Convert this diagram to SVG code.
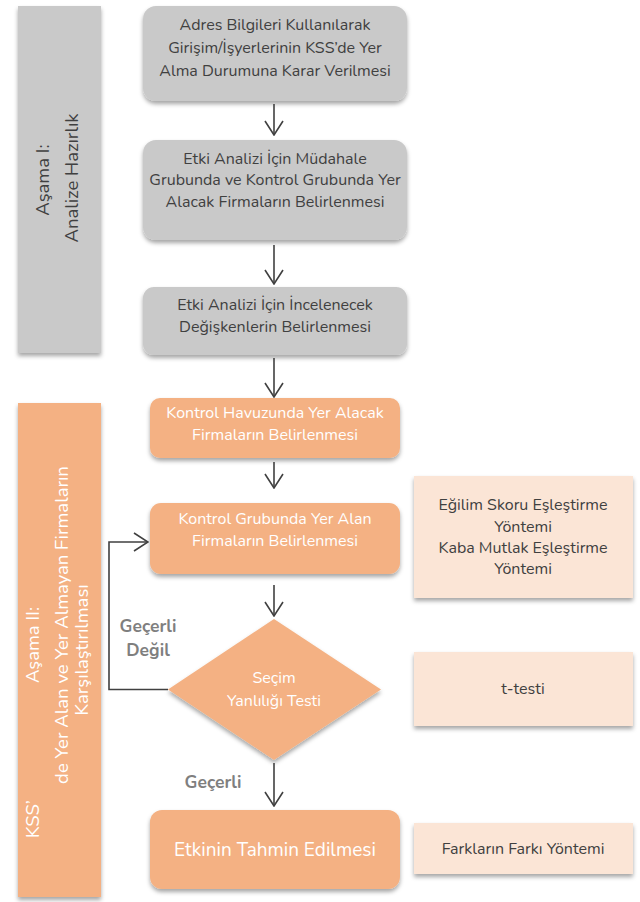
<svg xmlns="http://www.w3.org/2000/svg" width="640" height="902" viewBox="0 0 640 902">
<defs>
<filter id="sh" x="-10%" y="-10%" width="120%" height="130%">
<feDropShadow dx="0" dy="3" stdDeviation="2" flood-color="#000" flood-opacity="0.35"/>
</filter>
<marker id="ah" viewBox="0 0 16 20" refX="15" refY="10" markerWidth="16" markerHeight="20" markerUnits="userSpaceOnUse" orient="auto">
<path d="M1,1 L15,10 L1,19" fill="none" stroke="#404040" stroke-width="1.6"/>
</marker>
<style>
.gray{fill:#c9c9c9;filter:url(#sh)}
.org{fill:#f4b183;filter:url(#sh)}
.lt{fill:#fbe5d6;filter:url(#sh)}
text{font-family:"Nunito","Lato","Open Sans",sans-serif;text-anchor:middle;dominant-baseline:central}
.dk{fill:#404040;font-size:16px}
.wt{fill:#ffffff;font-size:16px}
.lbl{fill:#7f7f7f;font-size:17.5px;font-weight:bold}
.side{font-size:18.5px}
.conn{fill:none;stroke:#404040;stroke-width:1.6}
</style>
</defs>

<g id="phase1">
<rect class="gray" x="18" y="6" width="83" height="347"/>
<text class="dk side" transform="translate(43,180) rotate(-90)">Aşama I:</text>
<text class="dk side" transform="translate(72,178) rotate(-90)">Analize Hazırlık</text>
</g>

<g id="phase2">
<rect class="org" x="18" y="403" width="83" height="494"/>
<text class="wt side" transform="translate(33,645) rotate(-90)">Aşama II:</text>
<text class="wt side" transform="translate(33,819) rotate(-90)">KSS’</text>
<text class="wt side" transform="translate(62,625) rotate(-90)">de Yer Alan ve Yer Almayan Firmaların</text>
<text class="wt side" transform="translate(82,650) rotate(-90)">Karşılaştırılması</text>
</g>

<g id="n1">
<rect class="gray" x="143" y="6" width="264" height="95" rx="13"/>
<text class="dk" x="275" y="25">Adres Bilgileri Kullanılarak</text>
<text class="dk" x="275" y="48">Girişim/İşyerlerinin KSS’de Yer</text>
<text class="dk" x="275" y="71">Alma Durumuna Karar Verilmesi</text>
</g>

<g id="n2">
<rect class="gray" x="143" y="140" width="264" height="100" rx="13"/>
<text class="dk" x="275" y="159">Etki Analizi İçin Müdahale</text>
<text class="dk" x="275" y="180">Grubunda ve Kontrol Grubunda Yer</text>
<text class="dk" x="275" y="202">Alacak Firmaların Belirlenmesi</text>
</g>

<g id="n3">
<rect class="gray" x="143" y="287" width="264" height="68" rx="11"/>
<text class="dk" x="275" y="305">Etki Analizi İçin İncelenecek</text>
<text class="dk" x="275" y="327">Değişkenlerin Belirlenmesi</text>
</g>

<g id="n4">
<rect class="org" x="150" y="398" width="250" height="60" rx="10"/>
<text class="wt" x="275" y="413">Kontrol Havuzunda Yer Alacak</text>
<text class="wt" x="275" y="435">Firmaların Belirlenmesi</text>
</g>

<g id="n5">
<rect class="org" x="150" y="503" width="250" height="71" rx="11"/>
<text class="wt" x="275" y="519">Kontrol Grubunda Yer Alan</text>
<text class="wt" x="275" y="541">Firmaların Belirlenmesi</text>
</g>

<g id="n6">
<polygon class="org" points="274,619 381,689.5 274,760 168,689.5"/>
<text class="wt" x="274" y="678">Seçim</text>
<text class="wt" x="274" y="701">Yanlılığı Testi</text>
</g>

<g id="n7">
<rect class="org" x="150" y="810" width="250" height="79" rx="12"/>
<text class="wt" x="275" y="850" style="font-size:19px">Etkinin Tahmin Edilmesi</text>
</g>

<g id="r1">
<rect class="lt" x="414" y="476" width="219" height="122"/>
<text class="dk" x="523" y="505">Eğilim Skoru Eşleştirme</text>
<text class="dk" x="523" y="527">Yöntemi</text>
<text class="dk" x="523" y="548">Kaba Mutlak Eşleştirme</text>
<text class="dk" x="523" y="569">Yöntemi</text>
</g>

<g id="r2">
<rect class="lt" x="414" y="652" width="219" height="74"/>
<text class="dk" x="523" y="689">t-testi</text>
</g>

<g id="r3">
<rect class="lt" x="414" y="823" width="219" height="51"/>
<text class="dk" x="523" y="849">Farkların Farkı Yöntemi</text>
</g>

<g id="connectors">
<line class="conn" x1="274" y1="104" x2="274" y2="135" marker-end="url(#ah)"/>
<line class="conn" x1="274" y1="245" x2="274" y2="284" marker-end="url(#ah)"/>
<line class="conn" x1="274" y1="358" x2="274" y2="397" marker-end="url(#ah)"/>
<line class="conn" x1="274" y1="462" x2="274" y2="488" marker-end="url(#ah)"/>
<line class="conn" x1="274" y1="585" x2="274" y2="616" marker-end="url(#ah)"/>
<line class="conn" x1="274" y1="763" x2="274" y2="806" marker-end="url(#ah)"/>
<path class="conn" d="M168,689.5 H109 V542 H148" marker-end="url(#ah)"/>
<text class="lbl" x="148" y="626">Geçerli</text>
<text class="lbl" x="148" y="650">Değil</text>
<text class="lbl" x="213" y="782">Geçerli</text>
</g>
</svg>
